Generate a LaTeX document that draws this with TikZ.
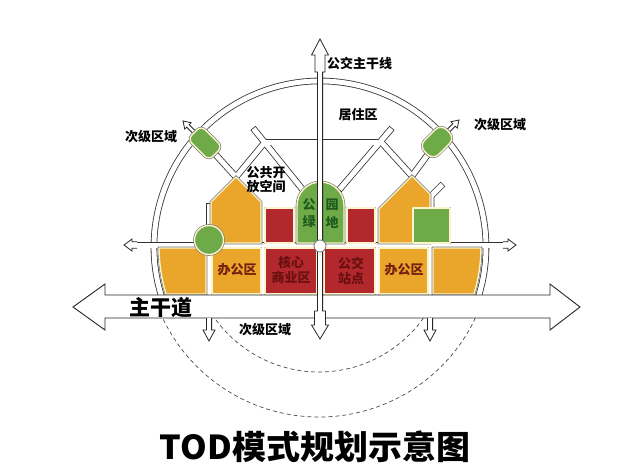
\documentclass[tikz,border=0pt]{standalone}
\usepackage{fontspec}
\setmainfont{Noto Sans CJK SC}
\definecolor{torange}{HTML}{EAA62A}
\definecolor{tred}{HTML}{B3282C}
\definecolor{tgreen}{HTML}{6EAA48}
\definecolor{tcream}{HTML}{FCF4CC}
\definecolor{tdkgreen}{HTML}{1C5A1E}
\definecolor{tdkred}{HTML}{6A1010}
\definecolor{tbrown}{HTML}{742010}
\begin{document}
\begin{tikzpicture}[x=1pt,y=-1pt,
  roadedge/.style={draw=black!80, line width=6.6pt},
  roadfill/.style={draw=white, line width=5pt, shorten <=0.8pt, shorten >=0.8pt},
  arcedge/.style={draw=black!80, line width=6.6pt},
  arcfill/.style={draw=white, line width=5pt},
  blk/.style={preaction={draw=black!55, line width=2.6pt}, draw=tcream, line width=1.4pt, line join=round},
  orangeblk/.style={blk, fill=torange},
  redblk/.style={blk, fill=tred},
  greenblk/.style={blk, fill=tgreen},
  outline/.style={fill=white, draw=black!85, line width=0.8pt, line join=miter},
  dashedring/.style={draw=black!70, line width=0.7pt, dash pattern=on 4pt off 3pt},
  lbl/.style={font=\fontsize{13}{15}\selectfont\bfseries, inner sep=0pt, text=black},
  grnlbl/.style={lbl, text=tdkgreen},
  redlbl/.style={lbl, text=tdkred, align=center, font=\fontsize{13}{14.5}\selectfont\bfseries},
  brnlbl/.style={lbl, text=tbrown},
  roadarrow/.pic={\filldraw[outline] (-2,-3.3) -- (3,-3.3) -- (3,-6) -- (11,0) -- (3,6) -- (3,3.3) -- (-2,3.3);},
  stubarrow/.pic={\filldraw[outline] (-2,-1.8) -- (10,-1.8) -- (10,-4.5) -- (17,0) -- (10,4.5) -- (10,1.8) -- (-2,1.8);},
  downarrow/.pic={\filldraw[outline] (-2.6,0) -- (-2.6,12) -- (-6,12) -- (0,23) -- (6,12) -- (2.6,12) -- (2.6,0);}
]
\useasboundingbox (0,0) rectangle (622,464);
\fill[white] (0,0) rectangle (622,464);

% centres
\coordinate (C) at (320,247);
\coordinate (D) at (319,244);

% dashed rings of the secondary area
\draw[dashedring] (D) ++(35.3:128) arc[start angle=35.3, end angle=144.7, radius=128];
\draw[dashedring] (D) ++(25.3:173) arc[start angle=25.3, end angle=154.7, radius=173];

% road points
\coordinate (hL) at (135,245);
\coordinate (hR) at (505,245);
\coordinate (vL1) at (209,203);
\coordinate (vL2) at (209,300);
\coordinate (vR1) at (431,300);
\coordinate (vR2) at (431,196);
\coordinate (vR3) at (443,184);
\coordinate (nodeL) at (205,143);
\coordinate (peakL) at (236,177);
\coordinate (xL) at (265,142);
\coordinate (stubL) at (253,128);
\coordinate (archL) at (303,190);
\coordinate (xR) at (381,142);
\coordinate (stubR) at (392,128);
\coordinate (archR) at (339,190);
\coordinate (peakR) at (412,176);
\coordinate (nodeR) at (437,142);

% ring road
\draw[arcedge] (C) ++(160:166) arc[start angle=160, end angle=380, radius=166];
\draw[arcfill] (C) ++(160:166) arc[start angle=160, end angle=380, radius=166];

% road network
\foreach \a/\b in {hL/hR, vL1/vL2, nodeL/peakL, xL/peakL, stubL/archL, xL/xR, stubR/archR, xR/peakR, nodeR/peakR}
  \draw[roadedge] (\a) -- (\b);
\draw[roadedge, line join=round] (vR1) -- (vR2) -- (vR3);
\foreach \a/\b in {hL/hR, vL1/vL2, nodeL/peakL, xL/peakL, stubL/archL, xL/xR, stubR/archR, xR/peakR, nodeR/peakR}
  \draw[roadfill] (\a) -- (\b);
\draw[roadfill, line join=round] (vR1) -- (vR2) -- (vR3);
\pic[rotate=180] at (hL) {roadarrow};
\pic at (hR) {roadarrow};

% node arrows
\pic[rotate=135] at (195,133) {stubarrow};
\pic[rotate=45] at (447,132) {stubarrow};

% lower row of blocks
\filldraw[orangeblk] (206,248) -- (206,294) -- ([shift={(163.03:161)}]C) arc[start angle=163.03, end angle=179.64, radius=161] -- cycle;
\filldraw[orangeblk] (212,248) rectangle (261,294);
\filldraw[redblk] (265,248) rectangle (317,294);
\filldraw[redblk] (324,248) rectangle (375,294);
\filldraw[orangeblk] (379,248) rectangle (428,294);
\filldraw[orangeblk] (433,248) -- (433,294) -- ([shift={(16.97:161)}]C) arc[start angle=16.97, end angle=0.36, radius=161] -- cycle;

% upper row
\filldraw[orangeblk] (211,243) -- (211,202) -- (peakL) -- (261,202) -- (261,243) -- cycle;
\filldraw[redblk] (265,208) rectangle (294,243);
\filldraw[greenblk] (297,243) -- (297,205.5) arc[start angle=180, end angle=360, radius=23.5] -- (344,243) -- cycle;
\filldraw[redblk] (347,208) rectangle (375,243);
\filldraw[orangeblk] (379,243) -- (379,209) -- (peakR) -- (430,194) -- (430,243) -- cycle;
\filldraw[greenblk] (413,208) rectangle (450,243);
\node[greenblk, circle, minimum size=29pt, inner sep=0pt] (greenround) at (209,240) {};

% secondary-area nodes
\node[greenblk, rectangle, rounded corners=6pt, minimum width=30pt, minimum height=19pt, inner sep=0pt, rotate=-45] (secL) at (nodeL) {};
\node[greenblk, rectangle, rounded corners=8pt, minimum width=31pt, minimum height=20pt, inner sep=0pt, rotate=45] (secR) at (nodeR) {};

% main road
\filldraw[outline, line width=0.9pt] (73,307) -- (105,284) -- (105,295) -- (550,295) -- (550,284) -- (580,307) -- (550,330) -- (550,318) -- (105,318) -- (105,330) -- cycle;
\pic at (209,318) {downarrow};
\pic at (430,318) {downarrow};

% bus trunk line
\filldraw[outline] (317.4,72) -- (315,72) -- (315,55) -- (311.5,55) -- (320,39) -- (328.5,55) -- (325,55) -- (325,72) -- (322.6,72)
  -- (322.6,311) -- (325.5,311) -- (325.5,325) -- (328.5,325) -- (320,339) -- (311.5,325) -- (314.5,325) -- (314.5,311) -- (317.4,311) -- cycle;
\node[circle, fill=white, draw=black!55, line width=0.8pt, minimum size=12pt, inner sep=0pt] (hub) at (320,246) {};

% labels
\node[lbl, anchor=west] (trunk) at (327,63) {公交主干线};
\node[lbl] (living) at (358,115) {居住区};
\node[lbl] (secLtxt) at (151,137) {次级区域};
\node[lbl] (secRtxt) at (500,125) {次级区域};
\node[lbl, align=center, font=\fontsize{13}{14}\selectfont\bfseries] (open) at (266,180) {公共开\\放空间};
\node[grnlbl] (p1) at (309,205) {公};
\node[grnlbl] (p2) at (332,205) {园};
\node[grnlbl] (p3) at (309,222) {绿};
\node[grnlbl] (p4) at (332,222) {地};
\node[brnlbl] (office1) at (237,270) {办公区};
\node[redlbl] (core) at (291,270) {核心\\商业区};
\node[redlbl] (bus) at (351,271) {公交\\站点};
\node[brnlbl] (office2) at (404,270) {办公区};
\node[lbl, font=\fontsize{21}{24}\selectfont\bfseries, anchor=west] (main) at (129,308) {主干道};
\node[lbl] (secB) at (265,330) {次级区域};
\node[font=\fontsize{33}{36}\selectfont\bfseries, xscale=1.03, inner sep=0pt] (title) at (315,447) {TOD模式规划示意图};
\end{tikzpicture}
\end{document}
